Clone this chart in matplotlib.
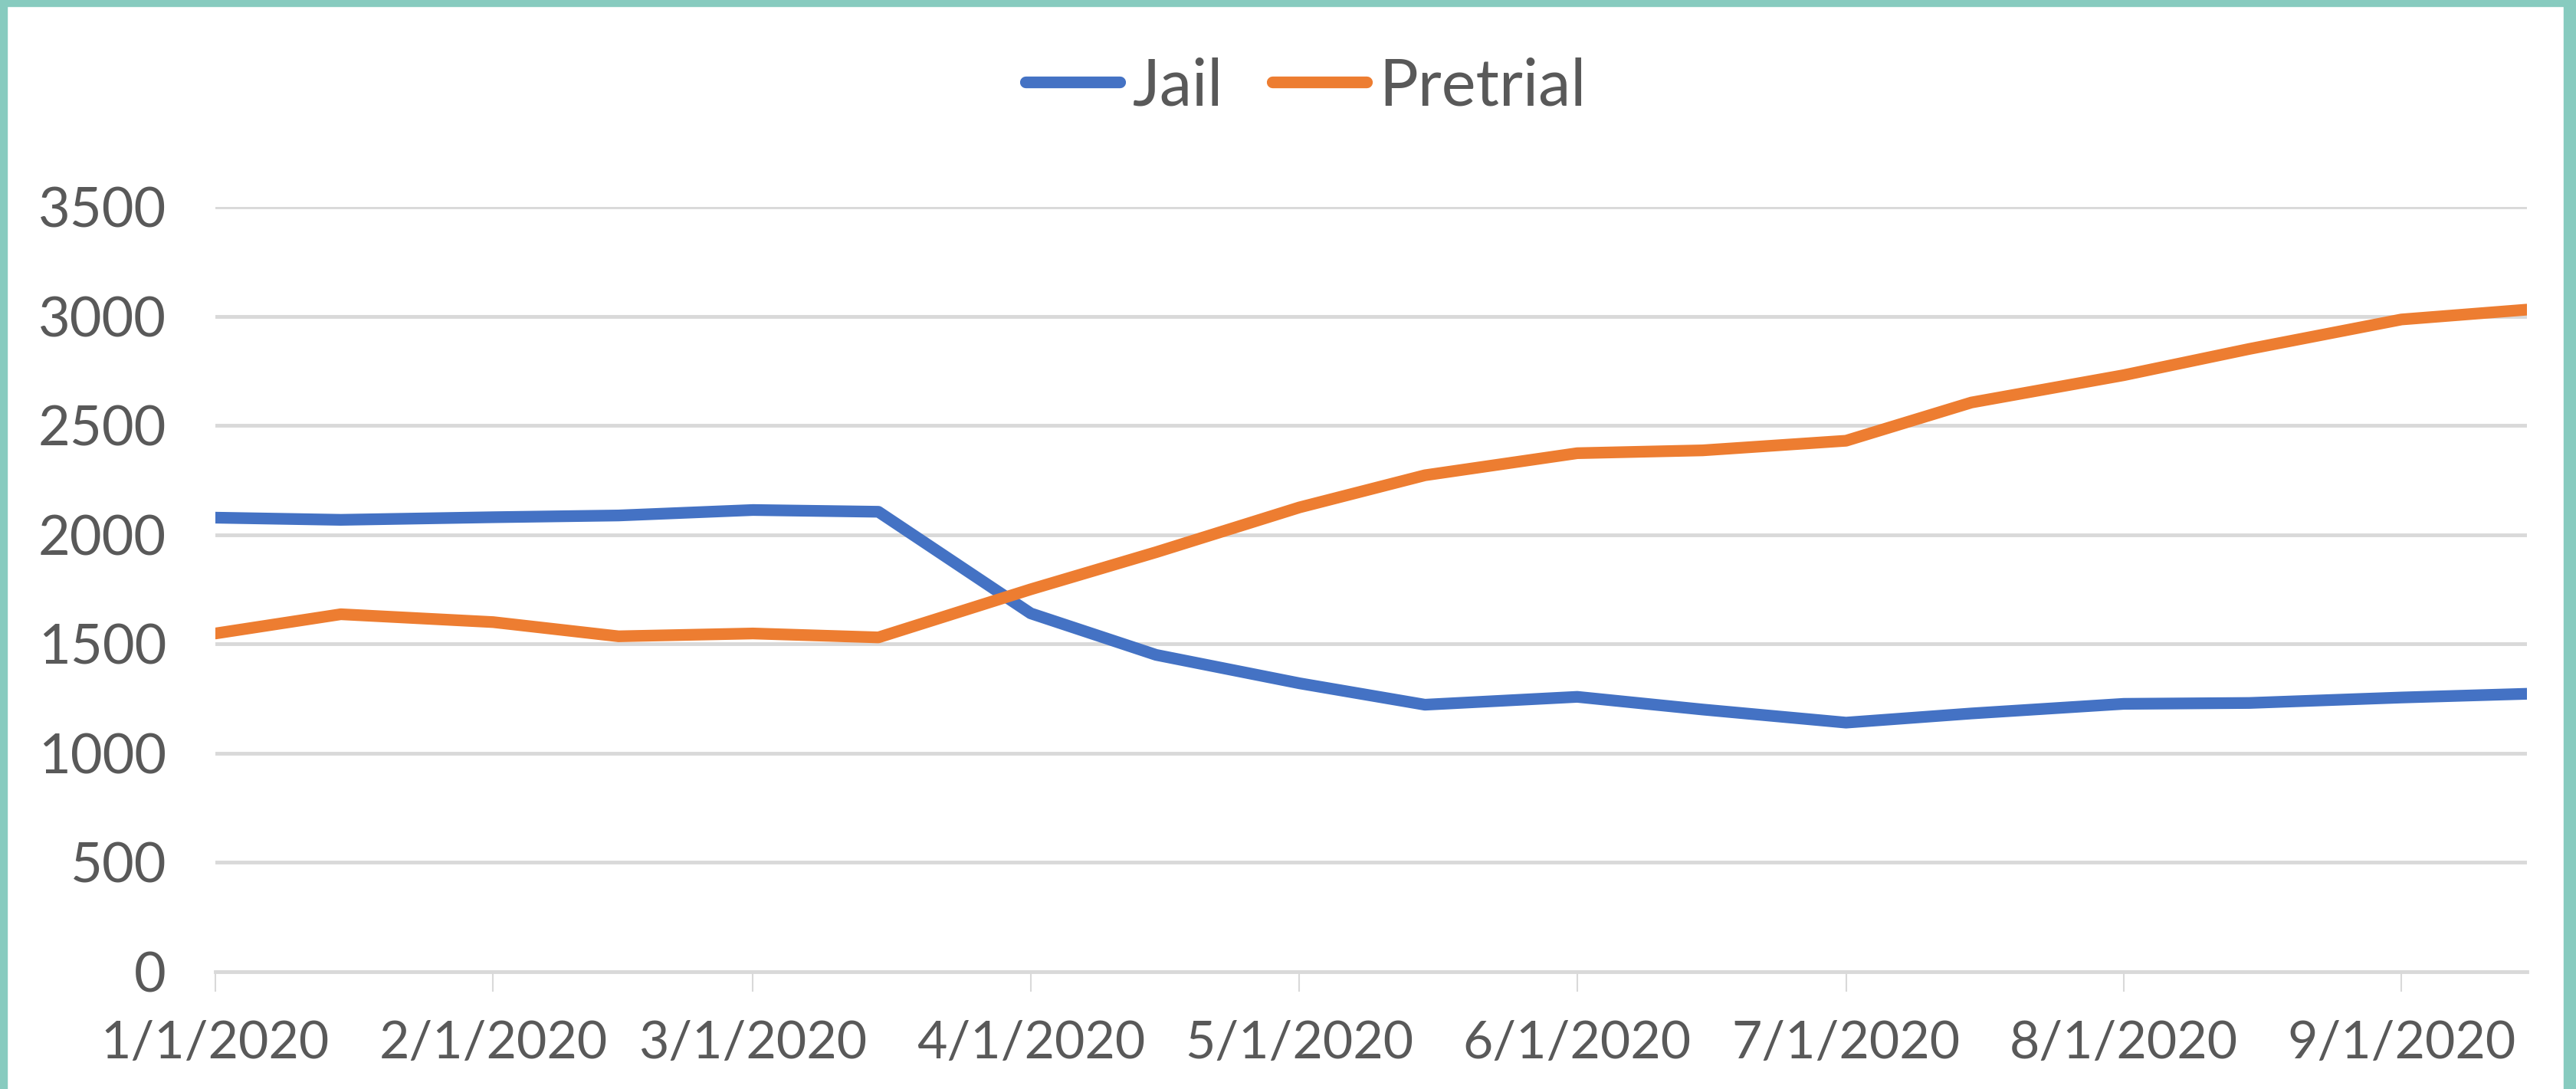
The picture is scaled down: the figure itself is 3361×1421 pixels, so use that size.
import matplotlib
matplotlib.use('Agg')
import matplotlib.pyplot as plt
import matplotlib.dates as mdates
from matplotlib.patches import Rectangle
from matplotlib.lines import Line2D
import numpy as np

# data (1st and 15th of each month)
dates = np.array(['2020-01-01', '2020-01-15', '2020-02-01', '2020-02-15',
                  '2020-03-01', '2020-03-15', '2020-04-01', '2020-04-15',
                  '2020-05-01', '2020-05-15', '2020-06-01', '2020-06-15',
                  '2020-07-01', '2020-07-15', '2020-08-01', '2020-08-15',
                  '2020-09-01', '2020-09-15'], dtype='datetime64[D]')
jail = [2078, 2068, 2080, 2088, 2113, 2105, 1640, 1450, 1320, 1222,
        1258, 1200, 1140, 1182, 1226, 1230, 1255, 1272]
pretrial = [1548, 1636, 1600, 1535, 1548, 1530, 1750, 1920, 2125, 2272,
            2373, 2386, 2430, 2605, 2730, 2850, 2985, 3030]
tick_dates = np.array(['2020-01-01', '2020-02-01', '2020-03-01', '2020-04-01',
                       '2020-05-01', '2020-06-01', '2020-07-01', '2020-08-01',
                       '2020-09-01'], dtype='datetime64[D]')
y_ticks = [0, 500, 1000, 1500, 2000, 2500, 3000, 3500]

blue = '#4472C4'
orange = '#ED7D31'
grid_col = '#D9D9D9'
text_col = '#595959'
teal = '#87CBBF'

plt.rcParams['font.family'] = ['Lato', 'DejaVu Sans']

W, H = 3361, 1421
fig = plt.figure(figsize=(W / 100, H / 100), dpi=100)
fig.patch.set_facecolor('white')

# teal frame on left, top, right
for (x0, y0, w, h) in [(0, 0, 9, H), (0, 0, W, 8), (W - 16, 0, 16, H)]:
    fig.patches.append(Rectangle((x0 / W, 1 - (y0 + h) / H), w / W, h / H,
                                 transform=fig.transFigure, color=teal,
                                 zorder=10))

ax = fig.add_axes([281 / W, 1 - 1268 / H, (3297 - 281) / W, (1268 - 270) / H])

ax.plot(dates, jail, color=blue, lw=11, solid_capstyle='round',
        solid_joinstyle='round', zorder=3)
ax.plot(dates, pretrial, color=orange, lw=11, solid_capstyle='round',
        solid_joinstyle='round', zorder=3)

ax.set_ylim(0, 3500)
ax.set_xlim(dates[0], dates[-1])
ax.set_yticks(y_ticks)
ax.set_xticks(tick_dates)
ax.xaxis.set_major_formatter(mdates.DateFormatter('%-m/%-d/%Y'))

ax.grid(axis='y', color=grid_col, lw=3.5, zorder=0)
ax.set_axisbelow(True)
for s in ['top', 'right', 'left']:
    ax.spines[s].set_visible(False)
ax.spines['bottom'].set_color(grid_col)
ax.spines['bottom'].set_linewidth(3.5)

ax.tick_params(axis='y', length=0, pad=46, labelsize=52, labelcolor=text_col)
ax.tick_params(axis='x', length=19, width=1.5, color=grid_col, pad=26,
               labelsize=49, labelcolor=text_col)

handles = [Line2D([], [], color=blue, lw=11, solid_capstyle='round'),
           Line2D([], [], color=orange, lw=11, solid_capstyle='round')]
fig.legend(handles, ['Jail', 'Pretrial'], loc='center',
           bbox_to_anchor=(0.507, 1 - 113 / H), ncol=2, frameon=False,
           fontsize=61, labelcolor=text_col, handlelength=1.45,
           handletextpad=0.2, columnspacing=0.75)

fig.savefig('out.png', dpi=100, facecolor='white')
